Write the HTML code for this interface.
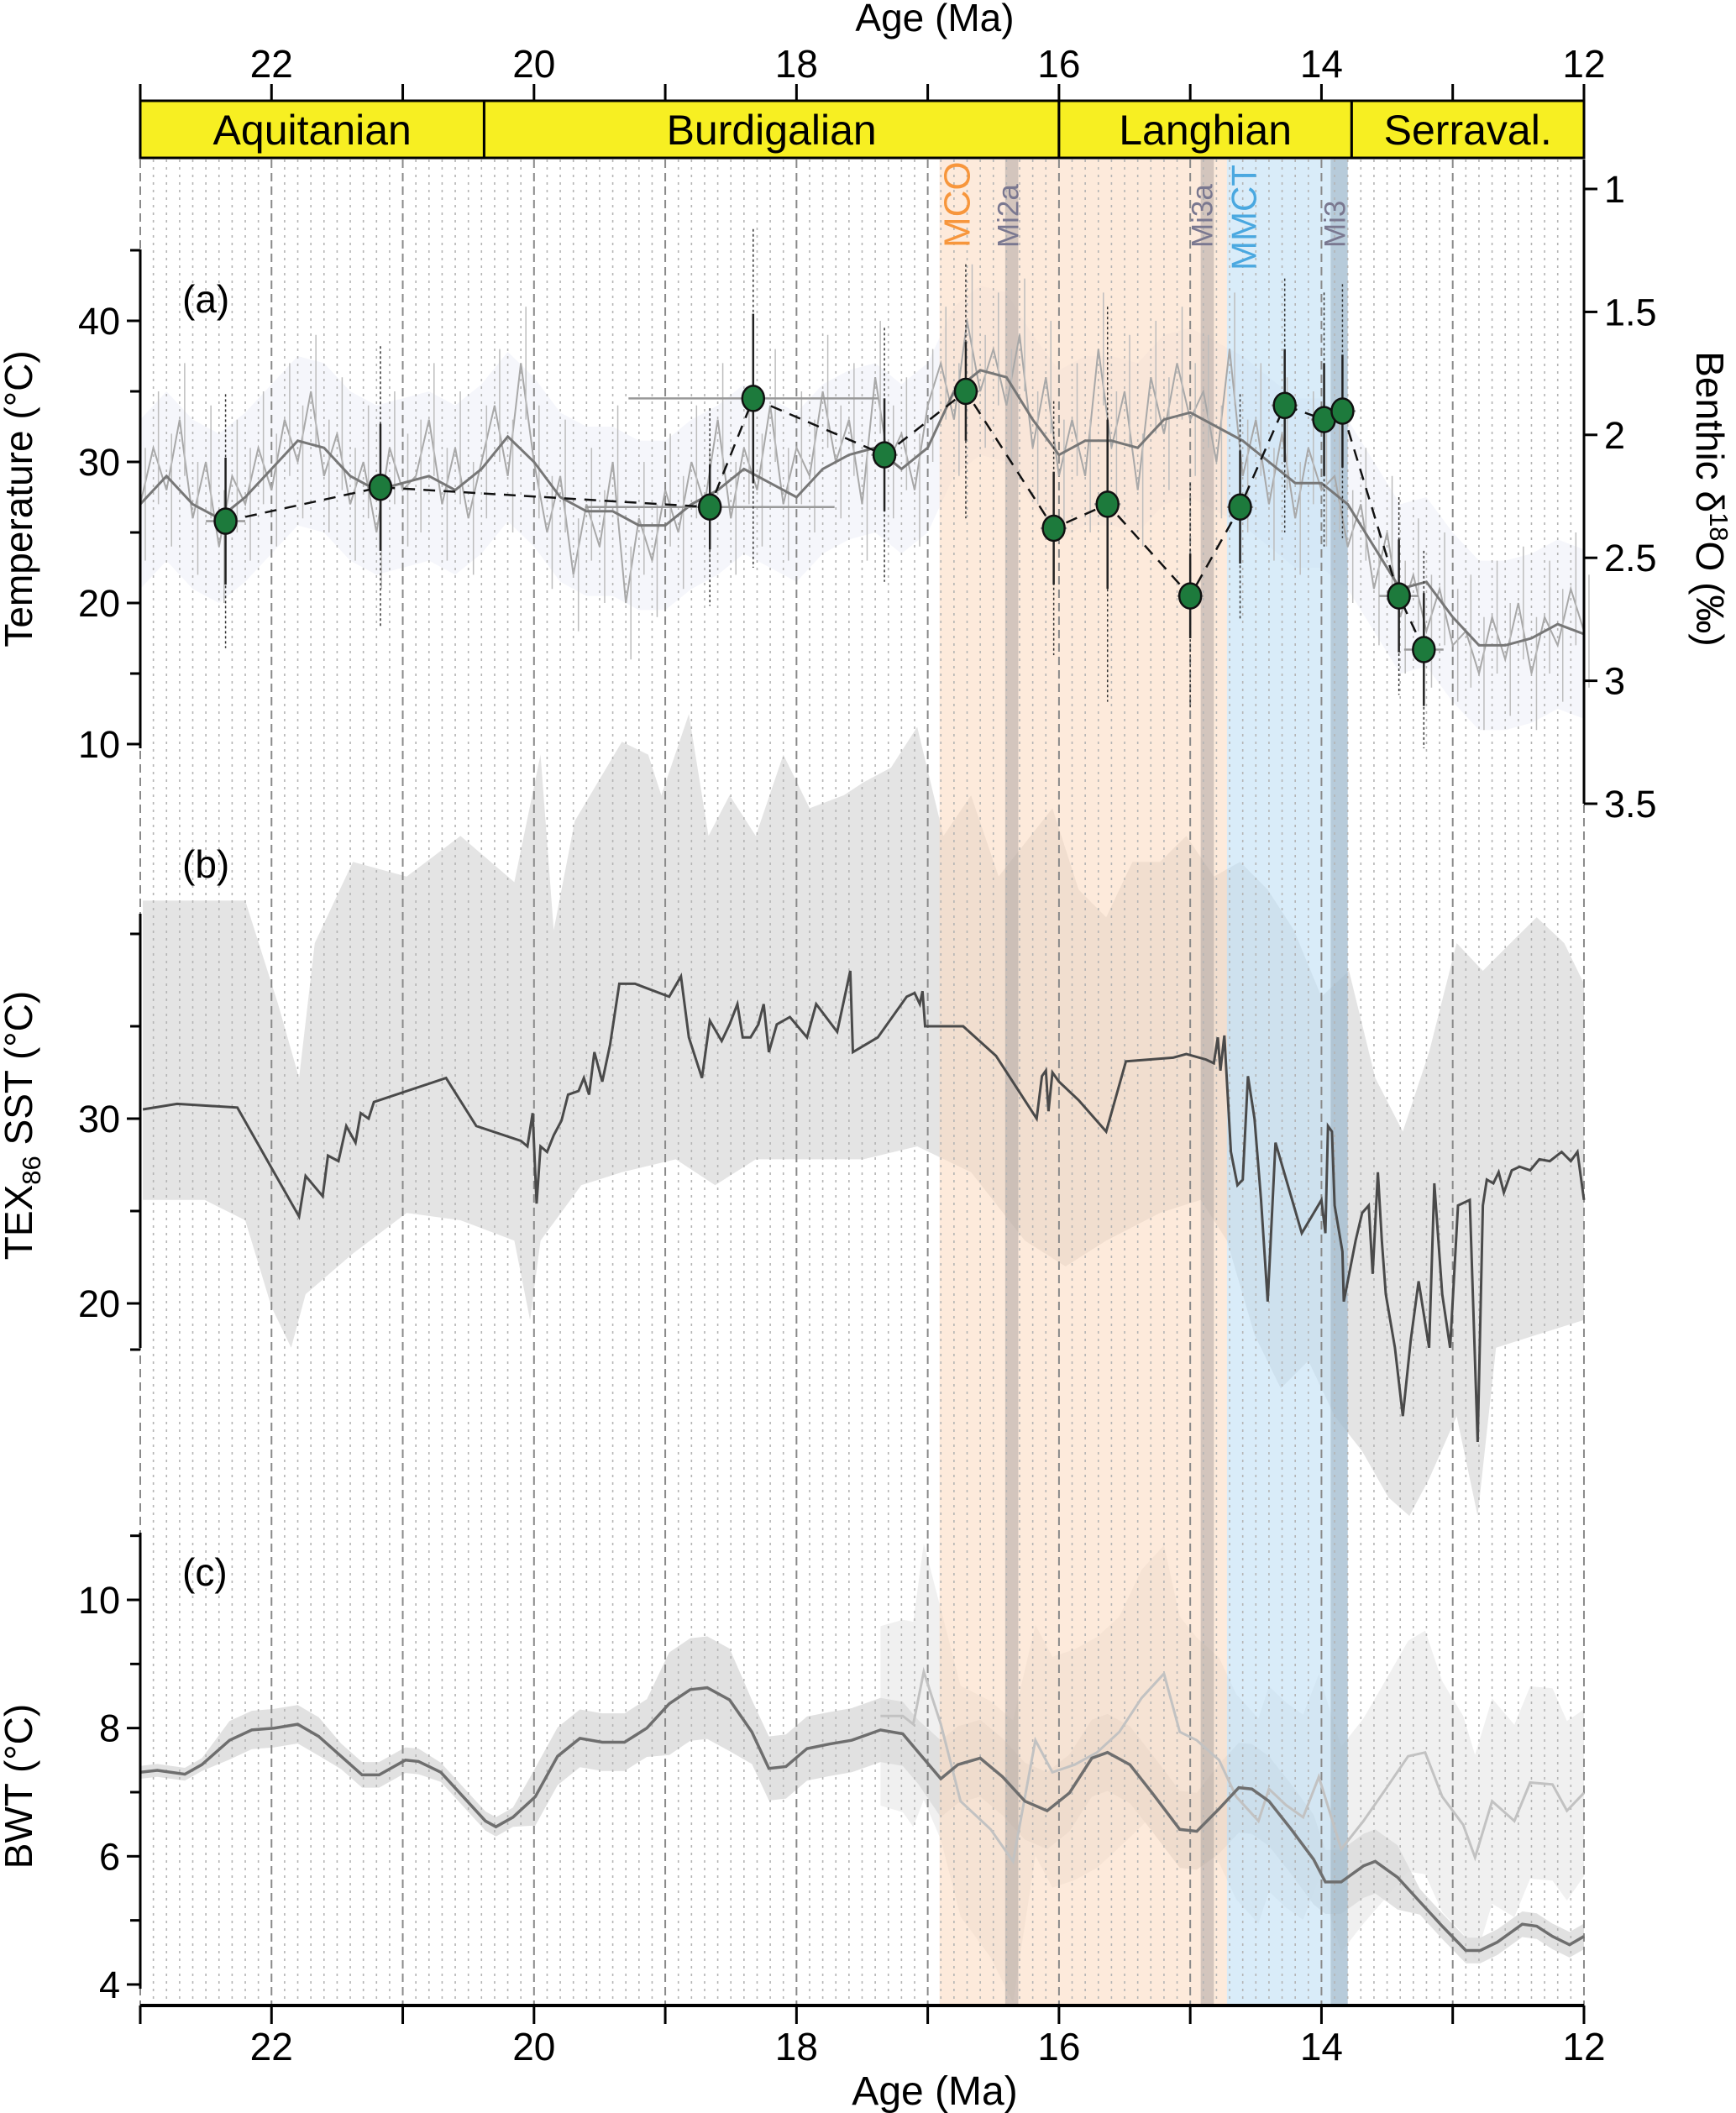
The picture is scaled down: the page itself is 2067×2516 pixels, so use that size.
<!DOCTYPE html>
<html><head><meta charset="utf-8"><style>
html,body{margin:0;padding:0;background:#fff}
svg{display:block;font-family:"Liberation Sans",sans-serif}
</style></head><body>
<svg id="chart" width="2067" height="2516" viewBox="0 0 2067 2516" xmlns="http://www.w3.org/2000/svg"></svg>
<script>
// ---- data ----
const stageNames = ["Aquitanian","Burdigalian","Langhian","Serraval."];
const stageStart = [23.03,20.38,16.0,13.77];
const stageEnd = [20.38,16.0,13.77,11.63];
const ageTicks = [22,20,18,16,14,12];
const tempTicks = [10,20,30,40];
const d18oTicks = [1,1.5,2,2.5,3,3.5];
const texTicks = [20,30];
const bwtTicks = [4,6,8,10];

// panel a: raw record (temperature-equivalent), ages 23.0 -> 12.0 step 0.1
const rawAges = [23.0,22.9,22.8,22.7,22.6,22.5,22.4,22.3,22.2,22.1,22.0,21.9,21.8,21.7,21.6,21.5,21.4,21.3,21.2,21.1,21.0,20.9,20.8,20.7,20.6,20.5,20.4,20.3,20.2,20.1,20.0,19.9,19.8,19.7,19.6,19.5,19.4,19.3,19.2,19.1,19.0,18.9,18.8,18.7,18.6,18.5,18.4,18.3,18.2,18.1,18.0,17.9,17.8,17.7,17.6,17.5,17.4,17.3,17.2,17.1,17.0,16.9,16.8,16.7,16.6,16.5,16.4,16.3,16.2,16.1,16.0,15.9,15.8,15.7,15.6,15.5,15.4,15.3,15.2,15.1,15.0,14.9,14.8,14.7,14.6,14.5,14.4,14.3,14.2,14.1,14.0,13.9,13.8,13.7,13.6,13.5,13.4,13.3,13.2,13.1,13.0,12.9,12.8,12.7,12.6,12.5,12.4,12.3,12.2,12.1,12.0];
const rawTemp = [27,31,28,33,26,30,24,29,27,31,28,
33,30,35,29,32,27,30,25,31,28,
29,33,27,31,26,30,34,29,37,30,
25,29,22,27,24,30,20,26,23,28,
25,30,27,33,26,31,28,34,27,31,
29,35,30,33,27,36,30,32,28,34,
37,33,40,35,38,34,39,31,36,29,
33,29,38,31,35,28,36,32,37,33,
35,30,38,29,33,27,32,26,31,28,
29,24,27,21,25,19,22,18,21,17,
18,15,19,16,20,15,19,17,21,18];
const smoothAges = [23.0,22.8,22.6,22.4,22.2,22.0,21.8,21.6,21.4,21.2,21.0,20.8,20.6,20.4,20.2,20.0,19.8,19.6,19.4,19.2,19.0,18.8,18.6,18.4,18.2,18.0,17.8,17.6,17.4,17.2,17.0,16.8,16.6,16.4,16.2,16.0,15.8,15.6,15.4,15.2,15.0,14.8,14.6,14.4,14.2,14.0,13.8,13.6,13.4,13.2,13.0,12.8,12.6,12.4,12.2,12.0];
const smoothTemp = [27,29,27,26,27.5,29.5,31.5,31,29,28,28.5,29,28,29.5,31.8,30,27.5,26.5,26.5,25.5,25.5,27,28,29.5,28.5,27.5,29.5,30.5,31,29.5,31,35,36.5,36,33,30.5,31.5,31.5,31,33,33.5,32.5,31.5,30,28.5,28.5,27,24,21,21.5,19,17,17,17.5,18.5,17.8];
const dotAges = [22.35,21.17,18.66,18.33,17.33,16.71,16.04,15.63,15.0,14.62,14.28,13.98,13.84,13.41,13.22];
const dotTemp = [25.8,28.2,26.8,34.5,30.5,35,25.3,27,20.5,26.8,34,33,33.6,20.5,16.7];
const dotErr = [4.5,4.5,3,6,4,3.5,4,6,3,4,4,4,4,4,4];
const dotErrWide = [9,10,7,12,9,9,9,14,8,8,9,9,9,7,7];
const dotAgeErr = [0.15,0.1,0.95,0.95,0.1,0.1,0.1,0.1,0.1,0.1,0.1,0.1,0.1,0.15,0.15];

// panel b: TEX86
const texAges = [22.98,22.72,22.26,21.79,21.74,21.61,21.57,21.49,21.43,21.36,21.32,21.26,21.22,20.67,20.44,20.1,20.05,20.01,19.98,19.95,19.9,19.85,19.79,19.74,19.66,19.62,19.58,19.54,19.48,19.42,19.35,19.23,18.97,18.88,18.82,18.72,18.66,18.57,18.51,18.45,18.41,18.35,18.29,18.25,18.21,18.15,18.05,17.92,17.85,17.69,17.59,17.57,17.38,17.16,17.1,17.06,17.04,17.02,16.92,16.73,16.48,16.17,16.13,16.1,16.08,16.05,16.0,15.85,15.64,15.49,15.13,15.03,14.88,14.82,14.79,14.77,14.74,14.69,14.64,14.6,14.56,14.51,14.46,14.41,14.35,14.15,14.0,13.97,13.95,13.92,13.9,13.84,13.83,13.74,13.69,13.64,13.61,13.57,13.54,13.51,13.44,13.38,13.32,13.26,13.18,13.14,13.08,13.02,12.96,12.87,12.81,12.77,12.74,12.69,12.65,12.61,12.55,12.49,12.41,12.34,12.26,12.17,12.1,12.05,12.0];
const texTemp = [30.5,30.8,30.6,24.7,26.9,25.8,28.0,27.7,29.6,28.7,30.3,30.0,30.9,32.2,29.6,28.8,28.5,30.3,25.4,28.5,28.2,29.1,29.9,31.3,31.5,32.2,31.3,33.6,32.0,34.0,37.3,37.3,36.6,37.7,34.4,32.2,35.3,34.2,35.1,36.2,34.4,34.4,35.1,36.2,33.6,35.1,35.5,34.4,36.2,34.7,38.0,33.6,34.4,36.6,36.8,36.2,36.9,35.0,35.0,35.0,33.4,30.0,32.3,32.6,30.4,32.5,32.0,31.0,29.3,33.1,33.3,33.5,33.2,33.0,34.4,32.6,34.5,28.2,26.4,26.7,32.3,30.0,25.6,20.1,28.7,23.8,25.6,23.8,29.6,29.3,25.3,22.8,20.1,23.4,24.9,25.3,21.6,27.1,23.4,20.5,17.6,13.9,18.0,21.2,17.6,26.5,20.5,17.6,25.3,25.6,12.5,25.3,26.7,26.5,27.1,26.0,27.2,27.4,27.2,27.8,27.7,28.2,27.7,28.2,25.6];
const texEnvAges = [22.98,22.2,21.95,21.79,21.67,21.38,20.97,20.56,20.15,19.95,19.85,19.69,19.33,19.13,19.03,18.82,18.67,18.51,18.31,18.1,17.9,17.64,17.49,17.28,17.08,16.88,16.67,16.46,16.05,15.85,15.64,15.44,15.23,15.03,14.82,14.62,14.41,14.21,14.0,13.79,13.59,13.38,13.18,12.97,12.77,12.56,12.36,12.15,12.0];
const texUpper = [41.8,41.8,36.2,32.2,39.5,43.9,43.1,45.3,42.8,49.7,40.2,46.1,50.4,49.7,47.5,51.9,45.3,47.5,45.3,49.7,46.8,47.5,48.2,49.0,51.2,45.3,47.5,43.1,46.8,42.4,40.9,43.9,43.9,45.3,43.1,43.9,42.4,40.2,36.6,38.0,32.2,29.3,33.6,39.5,38.0,39.5,40.9,39.5,37.3];
const texLowAges = [22.98,22.51,22.2,22.0,21.85,21.74,21.38,20.97,20.56,20.15,20.03,19.95,19.64,19.33,18.92,18.62,18.31,17.9,17.49,17.08,16.67,16.26,15.95,15.64,15.23,14.92,14.72,14.51,14.31,14.1,13.9,13.69,13.49,13.33,13.18,12.97,12.81,12.67,12.36,12.0];
const texLower = [25.6,25.6,24.5,19.8,17.6,20.5,22.7,24.9,24.5,23.4,19.1,23.4,26.4,27.1,27.8,26.4,27.8,27.8,27.8,28.5,27.1,23.4,22.0,23.4,24.9,25.6,23.4,18.3,15.4,16.9,13.9,12.0,9.5,8.5,10.5,13.9,8.5,17.6,18.3,19.1];

// panel c: BWT
const bwtAges = [23.0,22.87,22.66,22.53,22.32,22.15,21.98,21.8,21.64,21.47,21.31,21.18,20.98,20.88,20.71,20.54,20.37,20.29,20.16,19.99,19.82,19.65,19.48,19.31,19.14,18.97,18.81,18.68,18.51,18.34,18.21,18.08,17.92,17.75,17.58,17.36,17.19,17.07,16.9,16.77,16.6,16.43,16.26,16.09,15.92,15.75,15.63,15.46,15.29,15.08,14.95,14.78,14.63,14.53,14.4,14.23,14.06,13.97,13.85,13.68,13.59,13.42,13.25,13.08,12.9,12.79,12.66,12.47,12.36,12.24,12.11,12.0];
const bwtTemp = [7.31,7.34,7.28,7.43,7.81,7.97,8.0,8.06,7.87,7.56,7.27,7.27,7.5,7.48,7.31,6.93,6.55,6.46,6.61,6.93,7.56,7.84,7.78,7.78,8.0,8.38,8.6,8.63,8.44,7.94,7.37,7.4,7.68,7.75,7.81,7.97,7.91,7.62,7.21,7.43,7.53,7.24,6.86,6.71,6.99,7.53,7.62,7.43,6.99,6.42,6.39,6.74,7.07,7.05,6.86,6.42,5.95,5.6,5.6,5.85,5.92,5.67,5.29,4.91,4.53,4.53,4.66,4.94,4.91,4.75,4.62,4.75];
const bwtErr = [0.1,0.1,0.1,0.1,0.3,0.3,0.3,0.3,0.3,0.2,0.2,0.2,0.2,0.2,0.15,0.15,0.15,0.15,0.15,0.45,0.45,0.45,0.45,0.45,0.45,0.8,0.8,0.8,0.8,0.5,0.5,0.5,0.5,0.5,0.5,0.5,0.5,0.5,0.6,0.6,0.6,0.6,0.6,0.6,0.6,0.6,0.6,0.6,0.6,0.6,0.6,0.7,0.7,0.7,0.7,0.7,0.7,0.5,0.5,0.5,0.5,0.5,0.2,0.2,0.2,0.2,0.2,0.2,0.2,0.2,0.2,0.2];
const bwt2Ages = [17.36,17.19,17.11,17.03,16.9,16.75,16.52,16.35,16.18,16.05,15.88,15.71,15.54,15.37,15.2,15.08,14.95,14.78,14.65,14.48,14.4,14.27,14.14,14.02,13.85,13.68,13.51,13.34,13.21,13.08,12.92,12.83,12.7,12.53,12.41,12.24,12.13,12.0];
const bwt2Temp = [8.19,8.19,8.06,8.88,8.06,6.86,6.42,5.92,7.81,7.31,7.43,7.62,7.94,8.47,8.85,7.94,7.81,7.5,6.93,6.55,7.05,6.8,6.61,7.24,6.11,6.55,7.05,7.56,7.62,6.93,6.49,5.98,6.86,6.55,7.15,7.12,6.71,6.99];
const bwt2Err = [1.4,1.5,1.6,2.0,1.8,1.8,2.0,2.2,1.8,1.8,1.8,1.8,1.8,2.0,2.0,1.8,1.6,1.6,1.6,1.6,1.6,1.6,1.6,1.6,1.6,1.6,1.7,1.8,1.9,1.8,1.7,1.6,1.6,1.5,1.5,1.5,1.4,1.3];

// ---- scales ----
const X = a => 167 + (23 - a) * 156.27;
const Ya = t => 382 + (40 - t) * 16.8;
const Yd = d => 225 + (d - 1) * 292.8;
const Yb = t => 1332 + (30 - t) * 22.0;
const Yc = v => 1905 + (10 - v) * 76.33;

const svg = document.getElementById('chart');
const NS = 'http://www.w3.org/2000/svg';
function mk(tag, attrs, parent) {
  const e = document.createElementNS(NS, tag);
  for (const k in attrs) e.setAttribute(k, attrs[k]);
  (parent || svg).appendChild(e);
  return e;
}
function txt(s, attrs, parent) { const e = mk('text', attrs, parent); e.textContent = s; return e; }
function linePath(xs, ys) { return xs.map((x, i) => (i ? 'L' : 'M') + x.toFixed(1) + ' ' + ys[i].toFixed(1)).join(''); }

// ---- envelopes (behind) ----
let env = mk('path', {d: linePath(texEnvAges.map(X), texUpper.map(Yb)) + linePath(texLowAges.slice().reverse().map(X), texLower.slice().reverse().map(Yb)).replace('M','L') + 'Z', fill: '#e4e4e4'});



let e2 = mk('path', {d: linePath(bwt2Ages.map(X), bwt2Temp.map((v,i)=>Yc(v+bwt2Err[i]))) + linePath(bwt2Ages.slice().reverse().map(X), bwt2Temp.map((v,i)=>Yc(v-bwt2Err[i])).reverse()).replace('M','L') + 'Z', fill: '#f0f0f0'});



let e1 = mk('path', {d: linePath(bwtAges.map(X), bwtTemp.map((v,i)=>Yc(v+bwtErr[i]))) + linePath(bwtAges.slice().reverse().map(X), bwtTemp.map((v,i)=>Yc(v-bwtErr[i])).reverse()).replace('M','L') + 'Z', fill: '#dcdcdc', opacity: 0.85});



// faint lavender error cloud panel a
let cloud = mk('path', {d: linePath(smoothAges.map(X), smoothTemp.map(t=>Ya(t+6))) + linePath(smoothAges.slice().reverse().map(X), smoothTemp.map(t=>Ya(t-6)).reverse()).replace('M','L') + 'Z', fill: '#f1f2f9', opacity: 0.7});



// ---- event bands ----
const bands = [
  ['mco-band', 16.91, 14.72, '#fbd9bd', 0.55],
  ['mmct-band', 14.72, 13.80, '#bfdff5', 0.6],
  ['mi2a-band', 16.41, 16.31, '#a09a98', 0.45],
  ['mi3a-band', 14.92, 14.82, '#a09a98', 0.45],
  ['mi3-band', 13.93, 13.80, '#8fa4b4', 0.45]
];
bands.forEach(b => {
  const r = mk('rect', {x: X(b[1]), y: 190, width: X(b[2]) - X(b[1]), height: 2198, fill: b[3], opacity: b[4]});
  
  
});

// ---- grid ----
const grid = mk('g', {});


for (let k = 0; k <= 110; k++) {
  const a = 23 - k * 0.1;
  const major = k % 10 === 0;
  mk('line', {x1: X(a), x2: X(a), y1: 190, y2: 2388, stroke: major ? '#8a8a8a' : '#b4b4b4', 'stroke-width': major ? 2 : 1.6, 'stroke-dasharray': major ? '10 6' : '3 6'}, grid);
}

// ---- panel a ----
const raw = mk('path', {d: linePath(rawAges.map(X), rawTemp.map(Ya)), fill: 'none', stroke: '#a8a8a8', 'stroke-width': 2});


const spikes = mk('g', {stroke: '#bdbdbd', 'stroke-width': 1.5});


rawAges.forEach((a, i) => {
  mk('line', {x1: X(a) + 6, x2: X(a) + 6, y1: Ya(rawTemp[i] + 4), y2: Ya(rawTemp[i] - 4)}, spikes);
});
const sm = mk('path', {d: linePath(smoothAges.map(X), smoothTemp.map(Ya)), fill: 'none', stroke: '#777', 'stroke-width': 3});



// dots
const dotErrG = mk('g', {});


dotAges.forEach((a, i) => {
  mk('line', {x1: X(a), x2: X(a), y1: Ya(dotTemp[i] + dotErrWide[i]), y2: Ya(dotTemp[i] - dotErrWide[i]), stroke: '#333', 'stroke-width': 1.5, 'stroke-dasharray': '3 3'}, dotErrG);
  mk('line', {x1: X(a), x2: X(a), y1: Ya(dotTemp[i] + dotErr[i]), y2: Ya(dotTemp[i] - dotErr[i]), stroke: '#222', 'stroke-width': 2.5}, dotErrG);
  mk('line', {x1: X(a + dotAgeErr[i]), x2: X(a - dotAgeErr[i]), y1: Ya(dotTemp[i]), y2: Ya(dotTemp[i]), stroke: '#999', 'stroke-width': 2.5}, dotErrG);
});
const dl = mk('path', {d: linePath(dotAges.map(X), dotTemp.map(Ya)), fill: 'none', stroke: '#111', 'stroke-width': 2.5, 'stroke-dasharray': '14 10'});


dotAges.forEach((a, i) => {
  const c = mk('ellipse', {cx: X(a), cy: Ya(dotTemp[i]), rx: 13, ry: 15, fill: '#1d7a3c', stroke: '#111', 'stroke-width': 2.5});
  
  
});

// ---- panel b ----
const tl = mk('path', {d: linePath(texAges.map(X), texTemp.map(Yb)), fill: 'none', stroke: '#4a4a4a', 'stroke-width': 3});



// ---- panel c ----
const b2 = mk('path', {d: linePath(bwt2Ages.map(X), bwt2Temp.map(Yc)), fill: 'none', stroke: '#c2c2c2', 'stroke-width': 3});


const b1 = mk('path', {d: linePath(bwtAges.map(X), bwtTemp.map(Yc)), fill: 'none', stroke: '#6e6e6e', 'stroke-width': 3.5});



// ---- top axis and stage box ----
const topAx = mk('g', {});


for (let a = 23; a >= 12; a--) mk('line', {x1: X(a), x2: X(a), y1: 100, y2: 120, stroke: '#000', 'stroke-width': 3}, topAx);
ageTicks.forEach(a => txt(String(a), {x: X(a), y: 92, 'font-size': 46, 'text-anchor': 'middle'}, topAx));
const tt = txt('Age (Ma)', {x: 1113, y: 37, 'font-size': 46, 'text-anchor': 'middle'});


stageNames.forEach((n, i) => {
  const x1 = Math.max(X(stageStart[i]), 167), x2 = Math.min(X(stageEnd[i]), 1886);
  const r = mk('rect', {x: x1, y: 120, width: x2 - x1, height: 68, fill: '#f7ef22', stroke: '#000', 'stroke-width': 3});
  
  
  const t = txt(n, {x: (x1 + x2) / 2, y: 172, 'font-size': 50, 'text-anchor': 'middle'});
  
  
});

// ---- bottom axis ----
const botAx = mk('g', {});


mk('line', {x1: 167, x2: 1886, y1: 2388, y2: 2388, stroke: '#000', 'stroke-width': 4}, botAx);
for (let a = 23; a >= 12; a--) mk('line', {x1: X(a), x2: X(a), y1: 2388, y2: 2410, stroke: '#000', 'stroke-width': 3}, botAx);
ageTicks.forEach(a => txt(String(a), {x: X(a), y: 2453, 'font-size': 46, 'text-anchor': 'middle'}, botAx));
const bt = txt('Age (Ma)', {x: 1113, y: 2506, 'font-size': 48, 'text-anchor': 'middle'});



// ---- left/right y axes ----
function yAxis(name, x, ymin, ymax, majors, minors, Y, side) {
  const g = mk('g', {});
  
  
  mk('line', {x1: x, x2: x, y1: ymin, y2: ymax, stroke: '#000', 'stroke-width': 3}, g);
  const d = side === 'left' ? -1 : 1;
  minors.forEach(v => mk('line', {x1: x, x2: x + d * 12, y1: Y(v), y2: Y(v), stroke: '#000', 'stroke-width': 3}, g));
  majors.forEach(v => {
    mk('line', {x1: x, x2: x + d * 16, y1: Y(v), y2: Y(v), stroke: '#000', 'stroke-width': 3}, g);
    txt(String(v), {x: x + d * 24, y: Y(v) + 16, 'font-size': 45, 'text-anchor': side === 'left' ? 'end' : 'start'}, g);
  });
}
yAxis('temperature-axis', 167, 297, 891, tempTicks, [15, 25, 35, 45], Ya, 'left');
yAxis('d18o-axis', 1886, 190, 957, d18oTicks, [], Yd, 'right');
yAxis('tex86-axis', 167, 1088, 1605, texTicks, [17.5, 25, 35, 40], Yb, 'left');
yAxis('bwt-axis', 167, 1825, 2368, bwtTicks, [5, 7, 9, 11], Yc, 'left');

function rotText(s, x, y, ang, attrs, name) {
  const t = mk('text', Object.assign({transform: `translate(${x},${y}) rotate(${ang})`, 'font-size': 46, 'text-anchor': 'middle'}, attrs));
  t.innerHTML = s;
  
  
  return t;
}
rotText('Temperature (°C)', 38, 594, -90, {}, 'temperature-axis-title');
rotText('TEX<tspan font-size="31" dy="10">86</tspan><tspan dy="-10"> SST (°C)</tspan>', 38, 1340, -90, {}, 'tex86-axis-title');
rotText('BWT (°C)', 38, 2127, -90, {}, 'bwt-axis-title');
rotText('Benthic δ<tspan font-size="31" dy="-16">18</tspan><tspan dy="16">O (‰)</tspan>', 2020, 594, 90, {}, 'd18o-axis-title');

// panel labels
[['(a)', 372, 'panel-a-label'], ['(b)', 1045, 'panel-b-label'], ['(c)', 1888, 'panel-c-label']].forEach(p => {
  const t = txt(p[0], {x: 217, y: p[1], 'font-size': 46});
  
  
});

// band labels
[['MCO', 16.68, 295, 44, '#f7963c', 'mco-label'], ['Mi2a', 16.31, 295, 35, '#7a7890', 'mi2a-label'], ['Mi3a', 14.83, 295, 35, '#7a7890', 'mi3a-label'], ['MMCT', 14.5, 322, 42, '#4aa8e0', 'mmct-label'], ['Mi3', 13.82, 295, 35, '#7a7890', 'mi3-label']].forEach(b => {
  const t = mk('text', {transform: `translate(${X(b[1])},${b[2]}) rotate(-90)`, 'font-size': b[3], fill: b[4]});
  t.textContent = b[0];
  
  
});
</script>
</body></html>
